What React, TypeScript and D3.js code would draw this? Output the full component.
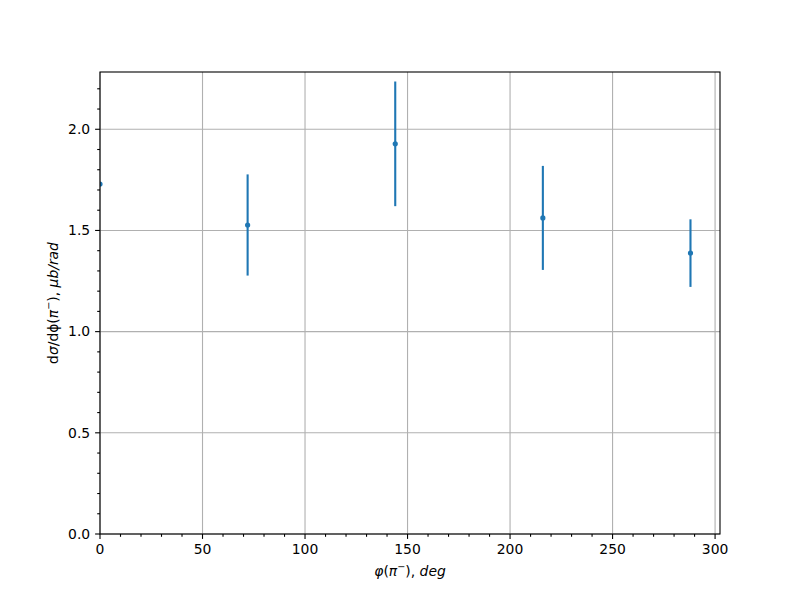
import React from 'react';
import * as d3 from 'd3';

// phi(pi-) bins, deg
const phiDeg: number[] = [0, 72, 144, 216, 288];
// d sigma / d phi, mub/rad
const xsec: number[] = [1.729, 1.527, 1.928, 1.562, 1.388];
// symmetric errors (first point has none drawn)
const xsecErr: (number | null)[] = [null, 0.25, 0.308, 0.257, 0.167];

const xTicks: number[] = [0, 50, 100, 150, 200, 250, 300];
const yTicks: number[] = [0, 0.5, 1.0, 1.5, 2.0];

const W = 800;
const H = 600;
const margin = { left: 100, right: 80, top: 72, bottom: 66 };
const font = 'DejaVu Sans, sans-serif';
const blue = '#1f77b4';

function App() {
    const x = d3.scaleLinear().domain([0, 302.4]).range([margin.left, W - margin.right]);
    const y = d3.scaleLinear().domain([0, 2.283]).range([H - margin.bottom, margin.top]);

    const [x0, x1] = x.range();
    const [y0, y1] = y.range();

    const xMinor = d3.range(0, 301, 10).filter(v => v % 50 !== 0);
    const yMinor = d3.range(0, 23).map(v => v / 10).filter(v => Math.round(v * 10) % 5 !== 0 && v <= 2.283);

    return (
        <svg width={W} height={H} style={{ position: 'absolute', left: 0, top: 0 }} fontFamily={font}>
            <defs>
                <clipPath id="plotArea">
                    <rect x={x0} y={y1} width={x1 - x0} height={y0 - y1} />
                </clipPath>
            </defs>
            <rect x={0} y={0} width={W} height={H} fill="white" />

            {/* grid */}
            <g stroke="#b0b0b0" strokeWidth={1.1}>
                {xTicks.map(t => (
                    <line key={'gx' + t} x1={x(t)} x2={x(t)} y1={y0} y2={y1} />
                ))}
                {yTicks.map(t => (
                    <line key={'gy' + t} x1={x0} x2={x1} y1={y(t)} y2={y(t)} />
                ))}
            </g>

            {/* data */}
            <g clipPath="url(#plotArea)">
                {phiDeg.map((p, i) => {
                    const e = xsecErr[i];
                    return e == null ? null : (
                        <line key={'e' + i} x1={x(p)} x2={x(p)} y1={y(xsec[i] - e)} y2={y(xsec[i] + e)}
                            stroke={blue} strokeWidth={2.1} />
                    );
                })}
                {phiDeg.map((p, i) => (
                    <circle key={'p' + i} cx={x(p)} cy={y(xsec[i])} r={2.6} fill={blue} />
                ))}
            </g>

            {/* spines */}
            <rect x={x0} y={y1} width={x1 - x0} height={y0 - y1} fill="none" stroke="black" strokeWidth={1.1} />

            {/* x ticks */}
            <g stroke="black" strokeWidth={1.1}>
                {xTicks.map(t => (
                    <line key={'tx' + t} x1={x(t)} x2={x(t)} y1={y0} y2={y0 + 4.9} />
                ))}
                {xMinor.map(t => (
                    <line key={'mx' + t} x1={x(t)} x2={x(t)} y1={y0} y2={y0 + 2.8} />
                ))}
                {yTicks.map(t => (
                    <line key={'ty' + t} x1={x0 - 4.9} x2={x0} y1={y(t)} y2={y(t)} />
                ))}
                {yMinor.map(t => (
                    <line key={'my' + t} x1={x0 - 2.8} x2={x0} y1={y(t)} y2={y(t)} />
                ))}
            </g>

            <g fontSize={13.9} fill="black">
                {xTicks.map(t => (
                    <text key={'lx' + t} x={x(t)} y={y0 + 9.8} dy="0.76em" textAnchor="middle">{t}</text>
                ))}
                {yTicks.map(t => (
                    <text key={'ly' + t} x={x0 - 9.8} y={y(t)} dy="0.35em" textAnchor="end">{t.toFixed(1)}</text>
                ))}
            </g>

            {/* x label: φ(π⁻), deg */}
            <text x={(x0 + x1) / 2} y={576} textAnchor="middle" fontSize={13.9}>
                <tspan fontStyle="italic">φ</tspan>
                <tspan>(</tspan>
                <tspan fontStyle="italic">π</tspan>
                <tspan fontSize={9.7} dy={-6}>−</tspan>
                <tspan dy={6}>), </tspan>
                <tspan fontStyle="italic">deg</tspan>
            </text>

            {/* y label: dσ/dϕ(π⁻), μb/rad */}
            <text transform={`translate(58, ${(y0 + y1) / 2}) rotate(-90)`} textAnchor="middle" fontSize={13.9}>
                <tspan>d</tspan>
                <tspan fontStyle="italic">σ</tspan>
                <tspan>/dϕ(</tspan>
                <tspan fontStyle="italic">π</tspan>
                <tspan fontSize={9.7} dy={-6}>−</tspan>
                <tspan dy={6}>), </tspan>
                <tspan fontStyle="italic">μb/rad</tspan>
            </text>
        </svg>
    );
}

export default App;
